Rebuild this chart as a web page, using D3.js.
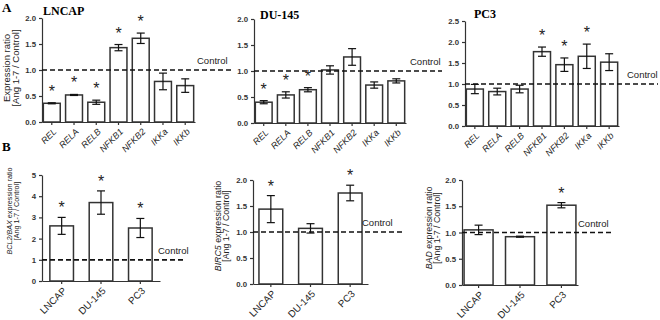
<!DOCTYPE html>
<html>
<head>
<meta charset="utf-8">
<script src="https://cdn.jsdelivr.net/npm/d3@7"></script>
<style>
  body { margin: 0; background: #fff; }
</style>
</head>
<body>
<svg id="chart" width="660" height="320"></svg>
<script>
// --- data ---
var genes = ["REL", "RELA", "RELB", "NFKB1", "NFKB2", "IKKa", "IKKb"];
var lncapVals = [0.36, 0.52, 0.38, 1.43, 1.61, 0.78, 0.70];
var lncapErr  = [0.01, 0.01, 0.04, 0.06, 0.10, 0.16, 0.13];
var lncapStar = [1, 1, 1, 1, 1, 0, 0];
var du145Vals = [0.40, 0.54, 0.64, 1.02, 1.27, 0.73, 0.81];
var du145Err  = [0.03, 0.06, 0.04, 0.08, 0.16, 0.06, 0.04];
var du145Star = [1, 1, 1, 0, 0, 0, 0];
var pc3Vals   = [0.88, 0.82, 0.88, 1.77, 1.46, 1.66, 1.52];
var pc3Err    = [0.11, 0.08, 0.09, 0.11, 0.16, 0.29, 0.20];
var pc3Star   = [0, 0, 0, 1, 1, 1, 0];

var cellLines = ["LNCAP", "DU-145", "PC3"];
var bcl2Vals = [2.6, 3.7, 2.5];
var bcl2Err  = [0.4, 0.55, 0.45];
var bcl2Star = [1, 1, 1];
var birc5Vals = [1.44, 1.07, 1.75];
var birc5Err  = [0.26, 0.09, 0.15];
var birc5Star = [1, 0, 1];
var badVals = [1.05, 0.92, 1.52];
var badErr  = [0.09, 0.01, 0.05];
var badStar = [0, 0, 1];

var ticksA12 = [0, 0.5, 1.0, 1.5, 2.0];
var ticksA3 = [0, 0.5, 1.0, 1.5, 2.0, 2.5];
var ticksB1 = [0, 1, 2, 3, 4, 5];
var ticksB23 = [0, 0.5, 1.0, 1.5, 2.0];

var SANS = "'Liberation Sans', Arial, sans-serif";
var SERIF = "'Liberation Serif', 'Times New Roman', serif";

var svg = d3.select("#chart");

function drawPanel(p)
{
  var g = svg.append("g").style("font-family", SANS);
  var x = d3.scaleBand().domain(p.cats).range([p.x0, p.x1])
            .paddingInner(p.padIn).paddingOuter(p.padOut);
  var y = d3.scaleLinear().domain([0, p.ymax]).range([p.yb, p.yt]);

  var rows = p.cats.map(function(c, i) {
    return {cat: c, v: p.vals[i], e: p.err[i], s: p.star[i]};
  });
  function mid(d) { return x(d.cat) + x.bandwidth() / 2; }

  // bars
  g.selectAll("rect.bar").data(rows).join("rect")
    .attr("class", "bar")
    .attr("x", function(d) { return x(d.cat); })
    .attr("y", function(d) { return y(d.v); })
    .attr("width", x.bandwidth())
    .attr("height", function(d) { return y(0) - y(d.v); })
    .attr("fill", "#fff")
    .attr("stroke", "#333")
    .attr("stroke-width", 1.5);

  // error bars
  var cap = Math.min(4, x.bandwidth() * 0.25);
  var eb = g.selectAll("g.err").data(rows).join("g").attr("class", "err");
  eb.append("line")
    .attr("x1", mid).attr("x2", mid)
    .attr("y1", function(d) { return y(d.v - d.e); })
    .attr("y2", function(d) { return y(d.v + d.e); });
  eb.append("line")
    .attr("x1", function(d) { return mid(d) - cap; })
    .attr("x2", function(d) { return mid(d) + cap; })
    .attr("y1", function(d) { return y(d.v + d.e); })
    .attr("y2", function(d) { return y(d.v + d.e); });
  eb.append("line")
    .attr("x1", function(d) { return mid(d) - cap; })
    .attr("x2", function(d) { return mid(d) + cap; })
    .attr("y1", function(d) { return y(d.v - d.e); })
    .attr("y2", function(d) { return y(d.v - d.e); });
  eb.selectAll("line").attr("stroke", "#111").attr("stroke-width", 1.2);

  // significance stars
  g.selectAll("text.star").data(rows.filter(function(d) { return d.s; })).join("text")
    .attr("class", "star")
    .attr("x", mid)
    .attr("y", function(d) { return y(d.v + d.e) - p.starGap; })
    .attr("text-anchor", "middle")
    .attr("font-size", 16)
    .attr("fill", "#222")
    .text("*");

  // y axis
  var ya = g.append("g").attr("transform", "translate(" + p.x0 + ",0)")
    .call(d3.axisLeft(y).tickValues(p.ticks).tickFormat(d3.format(p.fmt))
          .tickSize(3).tickSizeOuter(0));
  ya.selectAll("text").attr("font-size", 7.8).attr("fill", "#333")
    .style("font-family", SANS).attr("font-weight", "bold");
  ya.selectAll("path, line").attr("stroke", "#333").attr("stroke-width", 1.2);

  // x axis
  var xa = g.append("g").attr("transform", "translate(0," + p.yb + ")")
    .call(d3.axisBottom(x).tickSize(3).tickSizeOuter(0));
  xa.selectAll("path, line").attr("stroke", "#333").attr("stroke-width", 1.2);
  xa.selectAll("text")
    .attr("font-size", p.xFont)
    .attr("fill", "#222")
    .style("font-family", SANS)
    .attr("font-style", p.italicX ? "italic" : "normal")
    .attr("text-anchor", "end")
    .attr("x", 0).attr("y", 0).attr("dy", "0.35em")
    .attr("transform", "translate(3,8) rotate(-45)");

  // control line
  g.append("line")
    .attr("x1", p.x0).attr("x2", p.ctrlEnd)
    .attr("y1", y(1)).attr("y2", y(1))
    .attr("stroke", "#111").attr("stroke-width", 1.7)
    .attr("stroke-dasharray", "5,3");
  g.append("text")
    .attr("x", p.ctrlX).attr("y", y(1) - 6)
    .attr("font-size", 9.5).attr("fill", "#222")
    .text("Control");

  // y label (two lines)
  if (p.labX != null) {
    var lab = g.append("text")
      .attr("transform", "translate(" + p.labX + "," + p.labY + ") rotate(-90)")
      .attr("text-anchor", "middle")
      .attr("font-size", p.labFont).attr("fill", "#222");
    var l1 = lab.append("tspan").attr("x", 0).attr("dy", 0);
    if (p.gene) {
      l1.append("tspan").attr("font-style", "italic").text(p.gene);
      l1.append("tspan").text(" expression ratio");
    } else {
      l1.text("Expression ratio");
    }
    lab.append("tspan").attr("x", 0).attr("dy", p.labFont * 0.95).text("[Ang 1-7 / Control]");
  }

  if (p.title) {
    svg.append("text")
      .attr("x", p.titleX).attr("y", p.titleY)
      .style("font-family", SERIF)
      .attr("font-weight", "bold").attr("font-size", 12)
      .text(p.title);
  }
}

// panel A
drawPanel({cats: genes, vals: lncapVals, err: lncapErr, star: lncapStar,
  x0: 42, x1: 195, yt: 18, yb: 122, ymax: 2, ticks: ticksA12, fmt: ".1f",
  padIn: 0.24, padOut: 0.06, italicX: true, xFont: 9, starGap: 6,
  ctrlEnd: 231, ctrlX: 197, labX: 10, labY: 68, labFont: 9.5,
  title: "LNCAP", titleX: 43, titleY: 15});
drawPanel({cats: genes, vals: du145Vals, err: du145Err, star: du145Star,
  x0: 254, x1: 406, yt: 19, yb: 123, ymax: 2, ticks: ticksA12, fmt: ".1f",
  padIn: 0.24, padOut: 0.06, italicX: true, xFont: 9, starGap: 6,
  ctrlEnd: 442, ctrlX: 410, labX: null,
  title: "DU-145", titleX: 260, titleY: 19});
drawPanel({cats: genes, vals: pc3Vals, err: pc3Err, star: pc3Star,
  x0: 465, x1: 619, yt: 21, yb: 126, ymax: 2.5, ticks: ticksA3, fmt: ".1f",
  padIn: 0.24, padOut: 0.06, italicX: true, xFont: 9, starGap: 6,
  ctrlEnd: 658, ctrlX: 627, labX: null,
  title: "PC3", titleX: 474, titleY: 18});

// panel B
drawPanel({cats: cellLines, vals: bcl2Vals, err: bcl2Err, star: bcl2Star,
  x0: 42, x1: 160, yt: 175, yb: 281, ymax: 5, ticks: ticksB1, fmt: "d",
  padIn: 0.4, padOut: 0.2, italicX: false, xFont: 9.8, starGap: 4,
  ctrlEnd: 184, ctrlX: 158, labX: 12, labY: 211, labFont: 7.2, gene: "BCL2/BAX"});
drawPanel({cats: cellLines, vals: birc5Vals, err: birc5Err, star: birc5Star,
  x0: 253, x1: 368, yt: 180, yb: 284, ymax: 2, ticks: ticksB23, fmt: ".1f",
  padIn: 0.4, padOut: 0.15, italicX: false, xFont: 9.8, starGap: 4,
  ctrlEnd: 404, ctrlX: 362, labX: 221, labY: 226, labFont: 8.8, gene: "BIRC5"});
drawPanel({cats: cellLines, vals: badVals, err: badErr, star: badStar,
  x0: 462, x1: 578, yt: 180, yb: 285, ymax: 2, ticks: ticksB23, fmt: ".1f",
  padIn: 0.3, padOut: 0.05, italicX: false, xFont: 9.8, starGap: 4,
  ctrlEnd: 612, ctrlX: 578, labX: 432, labY: 228, labFont: 8.8, gene: "BAD"});

svg.append("text").attr("x", 2).attr("y", 12)
  .style("font-family", SERIF)
  .attr("font-weight", "bold").attr("font-size", 13).text("A");
svg.append("text").attr("x", 2).attr("y", 151)
  .style("font-family", SERIF)
  .attr("font-weight", "bold").attr("font-size", 13).text("B");
</script>
</body>
</html>
